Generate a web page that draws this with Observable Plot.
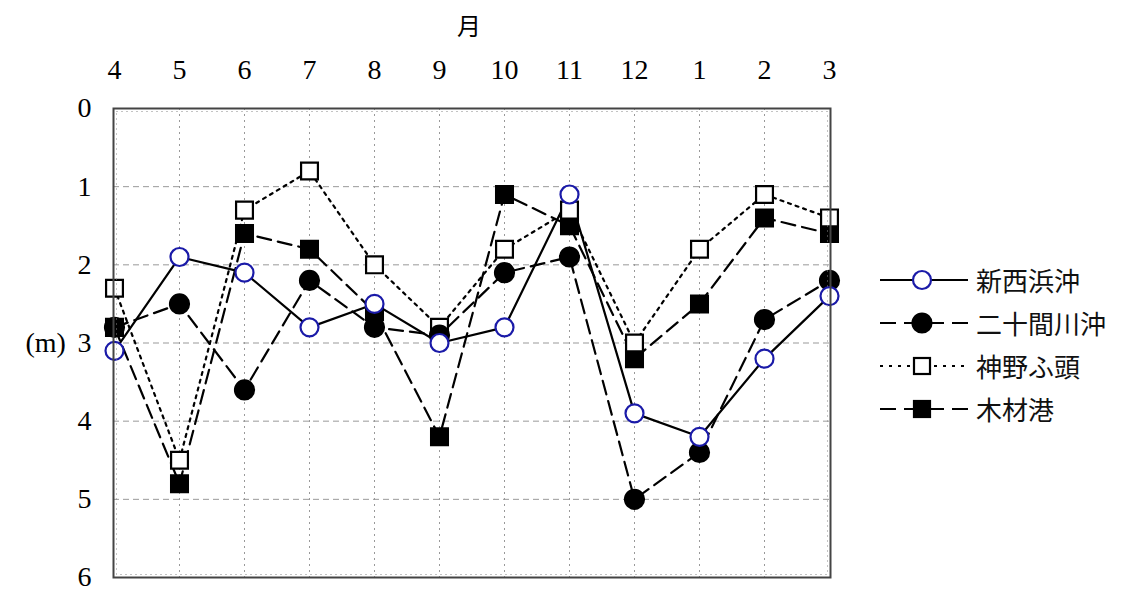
<!DOCTYPE html>
<html>
<head>
<meta charset="utf-8">
<script src="https://cdn.jsdelivr.net/npm/d3@7"></script>
<script src="https://cdn.jsdelivr.net/npm/@observablehq/plot@0.6"></script>
<style>
  html, body { margin: 0; padding: 0; background: white; }
  #wrap { position: relative; width: 1144px; height: 597px; }
  #legend { position: absolute; left: 878px; top: 258px; font-family: "Noto Sans CJK JP", sans-serif; font-size: 26px; color: #111; }
  .row { display: flex; align-items: center; height: 43px; }
  .row svg { margin-right: 6px; }
</style>
</head>
<body>
<div id="wrap"><div id="legend"></div></div>
<script>
const months = ["4","5","6","7","8","9","10","11","12","1","2","3"];
const seriesNames = ["新西浜沖","二十間川沖","神野ふ頭","木材港"];
const shinnishihama = [3.1, 1.9, 2.1, 2.8, 2.5, 3.0, 2.8, 1.1, 3.9, 4.2, 3.2, 2.4];
const nijikkengawa  = [2.8, 2.5, 3.6, 2.2, 2.8, 2.9, 2.1, 1.9, 5.0, 4.4, 2.7, 2.2];
const jinnofuto     = [2.3, 4.5, 1.3, 0.8, 2.0, 2.8, 1.8, 1.3, 3.0, 1.8, 1.1, 1.4];
const mokuzaiko     = [2.8, 4.8, 1.6, 1.8, 2.6, 4.2, 1.1, 1.5, 3.2, 2.5, 1.4, 1.6];
const yTicks = [0, 1, 2, 3, 4, 5, 6];

const seriesValues = [shinnishihama, nijikkengawa, jinnofuto, mokuzaiko];
const styles = {
  "新西浜沖":   {dash: null,   symbol: "circle", fill: "white", stroke: "#1a1aa8", r: 9},
  "二十間川沖": {dash: "14,7", symbol: "circle", fill: "black", stroke: "black",   r: 9.5},
  "神野ふ頭":   {dash: "3,5",  symbol: "square", fill: "white", stroke: "black",   r: 9.5},
  "木材港":     {dash: "14,7", symbol: "square", fill: "black", stroke: "black",   r: 9.5}
};
const data = seriesNames.map((name, i) => months.map((m, j) => ({series: name, month: m, value: seriesValues[i][j]})));

const lineMarks = seriesNames.map((name, i) => Plot.line(data[i], {
  x: "month", y: "value", stroke: "black", strokeWidth: 2.2,
  strokeDasharray: styles[name].dash || undefined
}));
const drawOrder = ["木材港", "神野ふ頭", "二十間川沖", "新西浜沖"];
const dotMarks = drawOrder.map(name => {
  const i = seriesNames.indexOf(name);
  const s = styles[name];
  return Plot.dot(data[i], {
    x: "month", y: "value", symbol: s.symbol, r: s.r,
    fill: s.fill, stroke: s.stroke, strokeWidth: 2.2
  });
});

const serif = "'Liberation Serif', 'DejaVu Serif', serif";
const chart = Plot.plot({
  width: 1144, height: 597,
  marginLeft: 113, marginRight: 314, marginTop: 108, marginBottom: 20,
  style: {fontFamily: serif, fontSize: "28px", color: "black", background: "white"},
  x: {type: "point", domain: months, padding: 0},
  y: {domain: [0, 6], reverse: true},
  marks: [
    Plot.gridX(months.slice(1, -1), {stroke: "#999", strokeOpacity: 1, strokeDasharray: "2,4"}),
    Plot.gridY([1, 2, 3, 4, 5], {stroke: "#999", strokeOpacity: 1, strokeDasharray: "6,4"}),
    Plot.axisX(months, {anchor: "top", tickSize: 0, tickPadding: 30, label: null, fontSize: 28, fontFamily: serif}),
    Plot.axisY(yTicks, {anchor: "left", tickSize: 0, tickPadding: 22, label: null, fontSize: 28, fontFamily: serif, tickFormat: d3.format("d")}),
    Plot.text(["月"], {frameAnchor: "top", dy: -91, dx: -3, fontFamily: "'Noto Sans CJK JP', sans-serif", fontSize: 24, text: d => d}),
    Plot.text(["(m)"], {frameAnchor: "left", dx: -88, fontSize: 28, fontFamily: serif, text: d => d}),
    ...lineMarks,
    ...dotMarks,
    Plot.frame({stroke: "#888", strokeWidth: 1, inset: 3, strokeDasharray: "1,4"}),
    Plot.frame({stroke: "#444", strokeWidth: 2})
  ]
});
document.getElementById("wrap").prepend(chart);

// legend
const legend = document.getElementById("legend");
seriesNames.forEach(name => {
  const s = styles[name];
  const row = document.createElement("div");
  row.className = "row";
  const marker = s.symbol === "circle"
    ? `<circle cx="44" cy="12" r="${s.r}" fill="${s.fill}" stroke="${s.stroke}" stroke-width="2.2"/>`
    : `<rect x="${44 - 8}" y="${12 - 8}" width="16" height="16" fill="${s.fill}" stroke="${s.stroke}" stroke-width="2.2"/>`;
  row.innerHTML = `<svg width="92" height="24"><line x1="2" y1="12" x2="90" y2="12" stroke="black" stroke-width="2.2" ${s.dash ? `stroke-dasharray="${name === "神野ふ頭" ? "3,6" : "16,8"}"` : ""}/>${marker}</svg><span>${name}</span>`;
  legend.appendChild(row);
});
</script>
</body>
</html>
